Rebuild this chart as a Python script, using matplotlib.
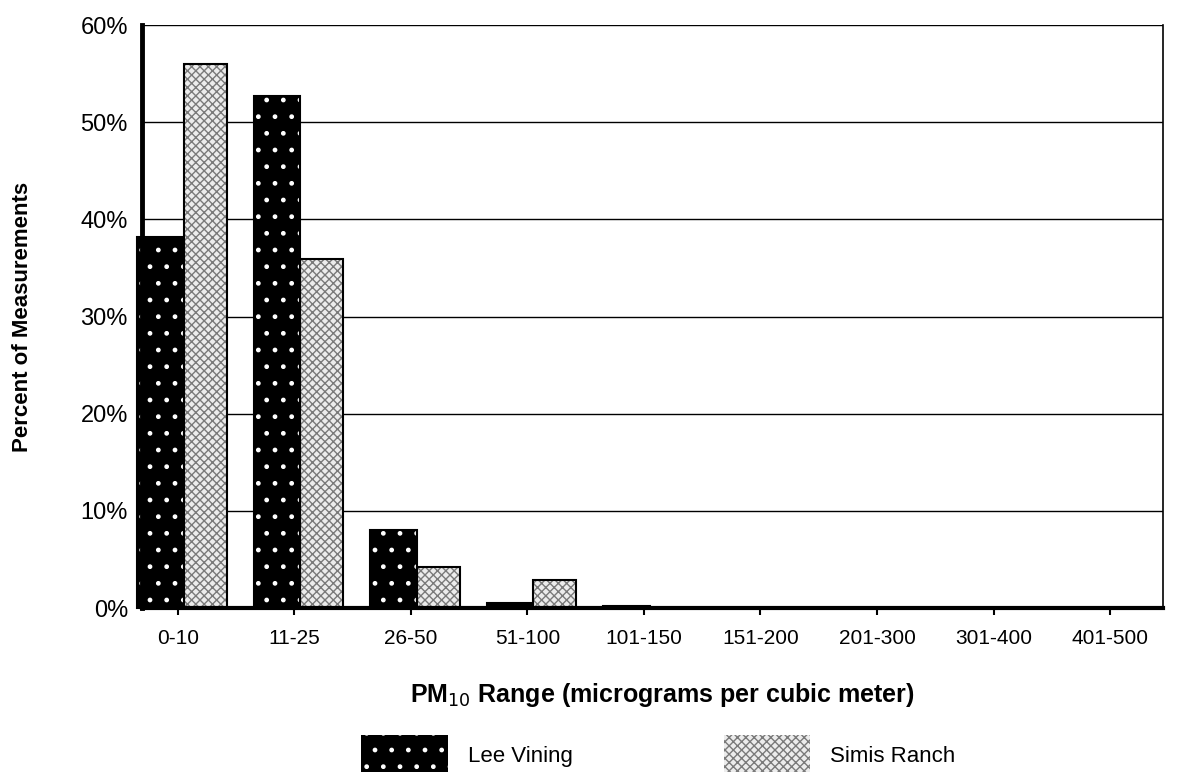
import numpy as np
import matplotlib.pyplot as plt
from matplotlib.patches import Patch

# Data
categories = ["0-10", "11-25", "26-50", "51-100", "101-150",
              "151-200", "201-300", "301-400", "401-500"]
lee_vining = [38.2, 52.7, 8.0, 0.5, 0.2, 0.0, 0.0, 0.0, 0.0]
simis_ranch = [56.0, 35.9, 4.2, 2.9, 0.0, 0.0, 0.0, 0.0, 0.0]
y_ticks = [0, 10, 20, 30, 40, 50, 60]

plt.rcParams["font.family"] = ["Liberation Sans", "DejaVu Sans"]
plt.rcParams["hatch.linewidth"] = 1.0

fig = plt.figure(figsize=(11.82, 7.72), dpi=100)
ax = fig.add_axes([0.12, 0.2124, 0.864, 0.7552])

x = np.arange(len(categories))
w_lee, w_sim = 0.40, 0.37
x_lee = x - 0.15
x_sim = x + 0.235

# gridlines behind bars
for t in y_ticks[1:]:
    ax.axhline(t, color="black", linewidth=1.0, zorder=0)

# Lee Vining: black with sparse white dots
ax.bar(x_lee, lee_vining, width=w_lee, color="black", edgecolor="white",
       hatch=".", linewidth=0, zorder=2, clip_on=False)
ax.bar(x_lee, lee_vining, width=w_lee, fill=False, edgecolor="black",
       linewidth=1.5, zorder=3, clip_on=False)
# Simis Ranch: light stipple
ax.bar(x_sim, simis_ranch, width=w_sim, color="#ececec",
       edgecolor="#7a7a7a", hatch="xxxx", linewidth=0, zorder=2)
ax.bar(x_sim, simis_ranch, width=w_sim, fill=False, edgecolor="black",
       linewidth=1.5, zorder=3)

ax.set_xlim(-0.309, 8.455)
ax.set_ylim(0, 60)
ax.set_xticks(x)
ax.set_xticklabels(categories, fontsize=15)
ax.set_yticks(y_ticks)
ax.set_yticklabels([f"{t}%" for t in y_ticks], fontsize=17)
ax.tick_params(axis="y", length=0, pad=10)
ax.tick_params(axis="x", length=5, width=1.5, direction="out", pad=10)

ax.spines["top"].set_visible(False)
ax.spines["left"].set_linewidth(3.5)
ax.spines["left"].set_zorder(4)
ax.spines["bottom"].set_linewidth(3)
ax.spines["right"].set_linewidth(1.2)

ax.set_ylabel("Percent of Measurements", fontsize=16, fontweight="bold",
              labelpad=34)
ax.set_xlabel("PM$_{10}$ Range (micrograms per cubic meter)", fontsize=18,
              fontweight="bold", labelpad=22)
ax.xaxis.set_label_coords(0.51, -0.125)

handles = [
    Patch(facecolor="black", edgecolor="white", hatch=".", linewidth=0),
    Patch(facecolor="#ececec", edgecolor="#7a7a7a", hatch="xxxx", linewidth=0),
]
fig.legend(handles, ["Lee Vining", "Simis Ranch"], loc="lower center",
           bbox_to_anchor=(0.557, -0.03), ncol=2, frameon=False, fontsize=16,
           handlelength=3.9, handleheight=2.4, columnspacing=6.8,
           handletextpad=0.9)

fig.savefig("out.png", dpi=100)
